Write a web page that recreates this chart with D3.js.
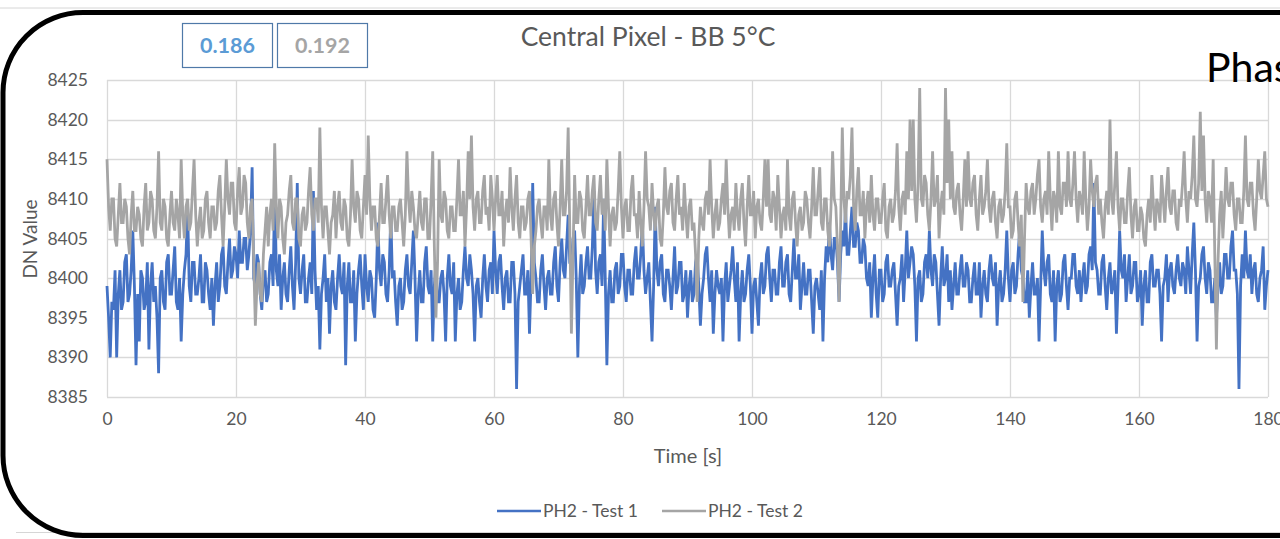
<!DOCTYPE html>
<html>
<head>
<meta charset="utf-8">
<script src="https://cdn.jsdelivr.net/npm/d3@7"></script>
<style>
  body { margin: 0; background: #fff; overflow: hidden; }
  text { font-family: Lato, "Open Sans", sans-serif; }
</style>
</head>
<body>
<div id="chart"></div>
<script>
// sampling step of the series, seconds
const step = 0.25;

// PH2 - Test 1 (DN), one value every 0.25 s from 0 to 180 s
const test1 = [
  8399,8395,8390,8397,8396,8401,8390,8398,8401,8396,8397,8402,8403,8397,8398,8401,8406,8399,8389,8398,
  8392,8401,8400,8396,8397,8402,8391,8399,8402,8397,8399,8395,8388,8400,8401,8397,8396,8402,8403,8398,
  8398,8401,8404,8397,8396,8400,8392,8398,8401,8403,8409,8399,8397,8402,8402,8398,8398,8400,8403,8397,
  8397,8402,8401,8398,8396,8400,8394,8399,8402,8397,8399,8403,8404,8399,8398,8402,8405,8400,8401,8404,
  8403,8400,8406,8402,8402,8405,8405,8401,8403,8406,8414,8400,8399,8403,8402,8398,8396,8400,8401,8397,
  8398,8402,8403,8399,8412,8401,8399,8403,8396,8400,8402,8398,8397,8401,8404,8399,8396,8402,8412,8400,
  8398,8401,8403,8397,8397,8400,8402,8398,8411,8401,8396,8399,8391,8398,8400,8403,8397,8400,8393,8399,
  8401,8397,8396,8400,8403,8399,8398,8402,8389,8399,8402,8397,8397,8401,8392,8398,8401,8403,8399,8396,
  8403,8399,8397,8401,8400,8396,8395,8400,8407,8401,8399,8403,8402,8398,8397,8401,8408,8400,8401,8397,
  8394,8399,8400,8396,8397,8401,8403,8399,8398,8402,8406,8400,8392,8398,8401,8397,8397,8402,8404,8399,
  8398,8401,8392,8399,8402,8397,8397,8400,8401,8398,8392,8400,8403,8399,8398,8402,8392,8398,8400,8396,
  8397,8401,8404,8400,8399,8403,8401,8398,8392,8399,8400,8397,8395,8400,8403,8399,8397,8401,8402,8398,
  8406,8401,8398,8402,8403,8399,8396,8400,8401,8397,8397,8402,8402,8398,8386,8397,8399,8401,8403,8398,
  8398,8401,8393,8400,8412,8402,8400,8397,8397,8401,8403,8399,8396,8400,8401,8398,8398,8402,8404,8399,
  8397,8402,8405,8401,8400,8404,8408,8402,8402,8405,8406,8400,8390,8399,8403,8398,8399,8402,8404,8400,
  8400,8404,8411,8401,8398,8402,8403,8399,8410,8400,8389,8398,8401,8397,8397,8401,8402,8398,8399,8403,
  8403,8399,8397,8401,8401,8398,8398,8402,8404,8400,8400,8403,8407,8401,8398,8400,8402,8397,8392,8399,
  8409,8401,8399,8402,8403,8398,8397,8401,8401,8399,8396,8400,8404,8398,8399,8402,8402,8397,8398,8401,
  8395,8399,8401,8397,8398,8402,8403,8399,8394,8398,8400,8403,8404,8400,8397,8401,8393,8398,8401,8399,
  8398,8400,8392,8399,8402,8397,8399,8401,8404,8400,8397,8402,8392,8398,8401,8397,8398,8401,8403,8399,
  8393,8399,8400,8397,8394,8400,8402,8398,8399,8403,8404,8400,8397,8401,8401,8398,8398,8402,8404,8399,
  8399,8402,8403,8398,8397,8401,8405,8400,8400,8403,8396,8399,8402,8398,8398,8401,8401,8397,8393,8399,
  8400,8398,8396,8401,8392,8400,8404,8402,8407,8403,8401,8405,8405,8402,8397,8403,8406,8404,8409,8403,
  8403,8406,8409,8404,8404,8407,8406,8402,8402,8405,8404,8400,8399,8402,8395,8400,8403,8398,8395,8401,
  8401,8397,8398,8402,8403,8399,8399,8401,8402,8398,8394,8399,8400,8403,8397,8401,8406,8400,8402,8404,
  8403,8399,8392,8400,8401,8397,8398,8402,8403,8400,8406,8401,8399,8403,8402,8398,8394,8400,8404,8399,
  8400,8403,8397,8401,8396,8399,8402,8398,8398,8401,8403,8399,8399,8402,8401,8397,8397,8400,8402,8398,
  8398,8402,8395,8399,8401,8398,8397,8401,8403,8400,8399,8402,8394,8399,8401,8397,8398,8401,8406,8400,
  8397,8401,8402,8398,8399,8403,8406,8401,8400,8397,8397,8401,8395,8399,8402,8398,8398,8400,8392,8399,
  8406,8401,8399,8402,8403,8398,8397,8401,8392,8399,8401,8397,8398,8402,8403,8399,8396,8400,8400,8403,
  8403,8399,8398,8401,8397,8400,8402,8398,8399,8403,8404,8401,8412,8402,8401,8398,8398,8402,8403,8399,
  8396,8400,8402,8398,8399,8401,8393,8399,8406,8401,8400,8403,8397,8400,8403,8398,8399,8402,8402,8397,
  8398,8401,8394,8399,8401,8397,8397,8402,8403,8399,8399,8401,8401,8398,8392,8399,8400,8403,8397,8401,
  8402,8399,8398,8401,8403,8400,8399,8402,8401,8398,8404,8401,8398,8403,8407,8401,8392,8399,8400,8403,
  8404,8400,8398,8402,8401,8397,8397,8400,8395,8399,8402,8398,8399,8403,8403,8400,8400,8404,8406,8401,
  8401,8398,8386,8399,8403,8400,8406,8401,8400,8403,8398,8401,8402,8398,8397,8400,8401,8404,8396,8399,
  8401
];

// PH2 - Test 2 (DN)
const test2 = [
  8415,8409,8406,8410,8410,8405,8404,8408,8412,8407,8407,8410,8409,8405,8403,8408,8411,8406,8406,8409,
  8408,8405,8404,8409,8412,8406,8407,8411,8410,8406,8405,8409,8416,8407,8406,8410,8409,8405,8404,8408,
  8411,8407,8406,8410,8408,8405,8415,8408,8405,8409,8410,8406,8407,8411,8415,8408,8404,8407,8409,8405,
  8406,8410,8411,8407,8405,8409,8409,8406,8407,8411,8413,8408,8404,8409,8415,8410,8408,8412,8412,8407,
  8406,8411,8414,8408,8409,8413,8412,8407,8405,8409,8410,8402,8394,8399,8402,8398,8397,8403,8406,8409,
  8404,8408,8410,8406,8417,8409,8405,8410,8409,8405,8403,8407,8408,8411,8413,8407,8406,8410,8410,8405,
  8404,8408,8409,8406,8407,8411,8414,8408,8406,8410,8410,8407,8419,8409,8405,8409,8409,8406,8403,8407,
  8408,8411,8405,8409,8411,8407,8406,8410,8409,8405,8404,8408,8415,8409,8407,8411,8410,8406,8405,8409,
  8413,8408,8418,8410,8406,8409,8409,8405,8404,8408,8412,8407,8407,8410,8413,8408,8405,8409,8409,8406,
  8406,8409,8410,8407,8404,8408,8416,8410,8407,8411,8409,8406,8405,8408,8411,8407,8406,8410,8410,8405,
  8405,8410,8416,8404,8395,8402,8415,8408,8407,8411,8410,8406,8405,8409,8409,8406,8406,8410,8415,8408,
  8408,8411,8404,8409,8416,8410,8418,8409,8406,8410,8411,8407,8407,8411,8413,8408,8409,8406,8413,8410,
  8406,8410,8413,8408,8408,8411,8404,8408,8410,8407,8414,8409,8406,8410,8413,8407,8405,8409,8409,8406,
  8407,8410,8411,8405,8398,8404,8406,8409,8410,8407,8405,8409,8409,8406,8415,8408,8406,8410,8411,8407,
  8404,8409,8415,8408,8408,8411,8419,8406,8393,8403,8413,8407,8407,8411,8410,8406,8405,8409,8413,8408,
  8408,8411,8413,8407,8406,8410,8413,8408,8410,8406,8415,8409,8404,8408,8409,8406,8407,8411,8416,8409,
  8405,8409,8410,8406,8406,8411,8413,8408,8408,8405,8411,8407,8404,8409,8416,8410,8409,8406,8412,8408,
  8406,8409,8410,8405,8404,8408,8414,8409,8408,8411,8412,8407,8406,8410,8413,8408,8409,8406,8412,8408,
  8405,8409,8410,8406,8407,8403,8397,8405,8409,8407,8406,8410,8411,8408,8415,8409,8405,8408,8410,8406,
  8407,8410,8412,8408,8415,8409,8405,8408,8409,8406,8412,8408,8406,8410,8412,8407,8404,8409,8413,8408,
  8408,8411,8405,8409,8410,8407,8406,8410,8415,8409,8415,8408,8407,8411,8410,8406,8413,8409,8405,8408,
  8409,8406,8415,8408,8406,8410,8411,8407,8404,8408,8409,8406,8407,8411,8410,8407,8405,8409,8414,8408,
  8408,8411,8414,8407,8406,8410,8410,8406,8404,8409,8416,8410,8409,8404,8397,8407,8419,8410,8407,8411,
  8410,8413,8419,8409,8406,8411,8414,8408,8408,8411,8405,8409,8411,8407,8413,8408,8406,8410,8410,8407,
  8407,8410,8412,8406,8405,8409,8410,8407,8408,8411,8417,8409,8406,8410,8411,8408,8416,8410,8420,8411,
  8420,8410,8407,8412,8424,8410,8409,8413,8412,8408,8406,8410,8416,8409,8410,8413,8405,8409,8411,8408,
  8424,8412,8420,8410,8416,8409,8408,8411,8412,8408,8406,8410,8415,8409,8416,8410,8409,8412,8413,8408,
  8406,8410,8413,8408,8409,8411,8415,8409,8407,8410,8411,8407,8405,8409,8410,8407,8408,8411,8417,8409,
  8409,8405,8406,8410,8411,8407,8404,8408,8397,8405,8412,8409,8408,8411,8412,8408,8410,8413,8415,8409,
  8407,8410,8411,8408,8416,8410,8406,8411,8410,8407,8416,8409,8408,8412,8412,8409,8416,8410,8409,8412,
  8416,8410,8407,8411,8410,8408,8416,8410,8406,8409,8415,8411,8409,8412,8413,8408,8410,8407,8405,8409,
  8411,8408,8420,8410,8408,8412,8416,8409,8406,8410,8410,8407,8407,8411,8414,8408,8405,8409,8410,8406,
  8406,8409,8408,8405,8404,8408,8410,8407,8413,8409,8406,8410,8409,8407,8413,8410,8407,8411,8414,8409,
  8408,8411,8411,8407,8406,8410,8409,8412,8416,8410,8407,8411,8410,8413,8418,8410,8409,8412,8421,8411,
  8418,8410,8407,8411,8410,8407,8415,8403,8391,8402,8408,8411,8405,8409,8414,8410,8409,8412,8412,8408,
  8406,8410,8410,8407,8407,8411,8418,8410,8409,8412,8412,8408,8406,8410,8415,8411,8410,8413,8416,8410,
  8409
];

const seriesNames = ["PH2 - Test 1", "PH2 - Test 2"];
const seriesColors = ["#4472c4", "#a5a5a5"];
const stdLabels = ["0.186", "0.192"];
const stdColors = ["#5b9bd5", "#a5a5a5"];
const xTicks = [0, 20, 40, 60, 80, 100, 120, 140, 160, 180];
const yTicks = [8385, 8390, 8395, 8400, 8405, 8410, 8415, 8420, 8425];

const W = 1280, H = 539;
const plot = {left: 107, right: 1268, top: 80, bottom: 397};

const svg = d3.select("#chart")
  .append("svg")
    .attr("width", W)
    .attr("height", H);

// slide edges
svg.append("line")
  .attr("x1", 0).attr("x2", W).attr("y1", 8).attr("y2", 8)
  .attr("stroke", "#d6d6d6").attr("stroke-width", 1);
svg.append("line")
  .attr("x1", 16).attr("x2", W).attr("y1", 532.5).attr("y2", 532.5)
  .attr("stroke", "#d6d6d6").attr("stroke-width", 1);

const x = d3.scaleLinear().domain([0, 180]).range([plot.left, plot.right]);
const y = d3.scaleLinear().domain([8385, 8425]).range([plot.bottom, plot.top]);

// gridlines
svg.append("g")
  .selectAll("line")
  .data(yTicks)
  .join("line")
    .attr("x1", plot.left).attr("x2", plot.right)
    .attr("y1", d => Math.round(y(d)) + 0.5).attr("y2", d => Math.round(y(d)) + 0.5)
    .attr("stroke", "#d9d9d9").attr("stroke-width", 1.3);
svg.append("g")
  .selectAll("line")
  .data(xTicks)
  .join("line")
    .attr("x1", d => Math.round(x(d)) + 0.5).attr("x2", d => Math.round(x(d)) + 0.5)
    .attr("y1", plot.top).attr("y2", plot.bottom)
    .attr("stroke", "#d9d9d9").attr("stroke-width", 1.3);

// axes labels (no tick marks, like Excel)
const yAxis = svg.append("g")
  .attr("transform", `translate(${plot.left - 19},0)`)
  .call(d3.axisLeft(y).tickValues(yTicks).tickFormat(d3.format("d")).tickSize(0).tickPadding(0));
const xAxis = svg.append("g")
  .attr("transform", `translate(0,${plot.bottom + 16})`)
  .call(d3.axisBottom(x).tickValues(xTicks).tickFormat(d3.format("d")).tickSize(0).tickPadding(0));
[yAxis, xAxis].forEach(a => {
  a.select(".domain").remove();
  a.selectAll("text")
    .style("font-family", "Lato")
    .style("font-size", "17.5px")
    .attr("fill", "#595959");
});
xAxis.selectAll("text").attr("dy", "0.71em");

// lines
const line = d3.line()
  .x((d, i) => x(i * step))
  .y(d => y(d));

[test1, test2].forEach((s, k) => {
  svg.append("path")
    .datum(s)
    .attr("fill", "none")
    .attr("stroke", seriesColors[k])
    .attr("stroke-width", 2.8)
    .attr("stroke-linejoin", "miter")
    .attr("d", line);
});

// title
svg.append("text")
  .attr("x", 648).attr("y", 46)
  .attr("text-anchor", "middle")
  .style("font-size", "26.5px")
  .attr("fill", "#595959")
  .text("Central Pixel - BB 5°C");

// axis titles
svg.append("text")
  .attr("x", 688).attr("y", 463)
  .attr("text-anchor", "middle")
  .style("font-size", "20px")
  .attr("fill", "#595959")
  .text("Time [s]");

svg.append("text")
  .attr("transform", "translate(37,239) rotate(-90)")
  .attr("text-anchor", "middle")
  .style("font-size", "19px")
  .attr("fill", "#595959")
  .text("DN Value");

// legend
const legendX = [497, 662];
seriesNames.forEach((n, k) => {
  svg.append("line")
    .attr("x1", legendX[k]).attr("x2", legendX[k] + 44)
    .attr("y1", 511).attr("y2", 511)
    .attr("stroke", seriesColors[k]).attr("stroke-width", 2.4);
  svg.append("text")
    .attr("x", legendX[k] + 46).attr("y", 517)
    .style("font-size", "17.5px")
    .attr("fill", "#595959")
    .text(n);
});

// std boxes
const boxX = [182.5, 277.5];
stdLabels.forEach((s, k) => {
  svg.append("rect")
    .attr("x", boxX[k]).attr("y", 23.5)
    .attr("width", 90).attr("height", 44)
    .attr("fill", "#fff")
    .attr("stroke", "#4f79a8").attr("stroke-width", 1.2);
  svg.append("text")
    .attr("x", boxX[k] + 45).attr("y", 53)
    .attr("text-anchor", "middle")
    .style("font-size", "21.5px")
    .style("font-weight", "bold")
    .attr("fill", stdColors[k])
    .text(s);
});

// slide text behind the frame
svg.append("text")
  .attr("x", 1206).attr("y", 82)
  .style("font-size", "41px")
  .attr("fill", "#000")
  .text("Phase");

// rounded frame
svg.append("rect")
  .attr("x", 3).attr("y", 12.5)
  .attr("width", 1400).attr("height", 523)
  .attr("rx", 80).attr("ry", 80)
  .attr("fill", "none")
  .attr("stroke", "#000")
  .attr("stroke-width", 5);
</script>
</body>
</html>
